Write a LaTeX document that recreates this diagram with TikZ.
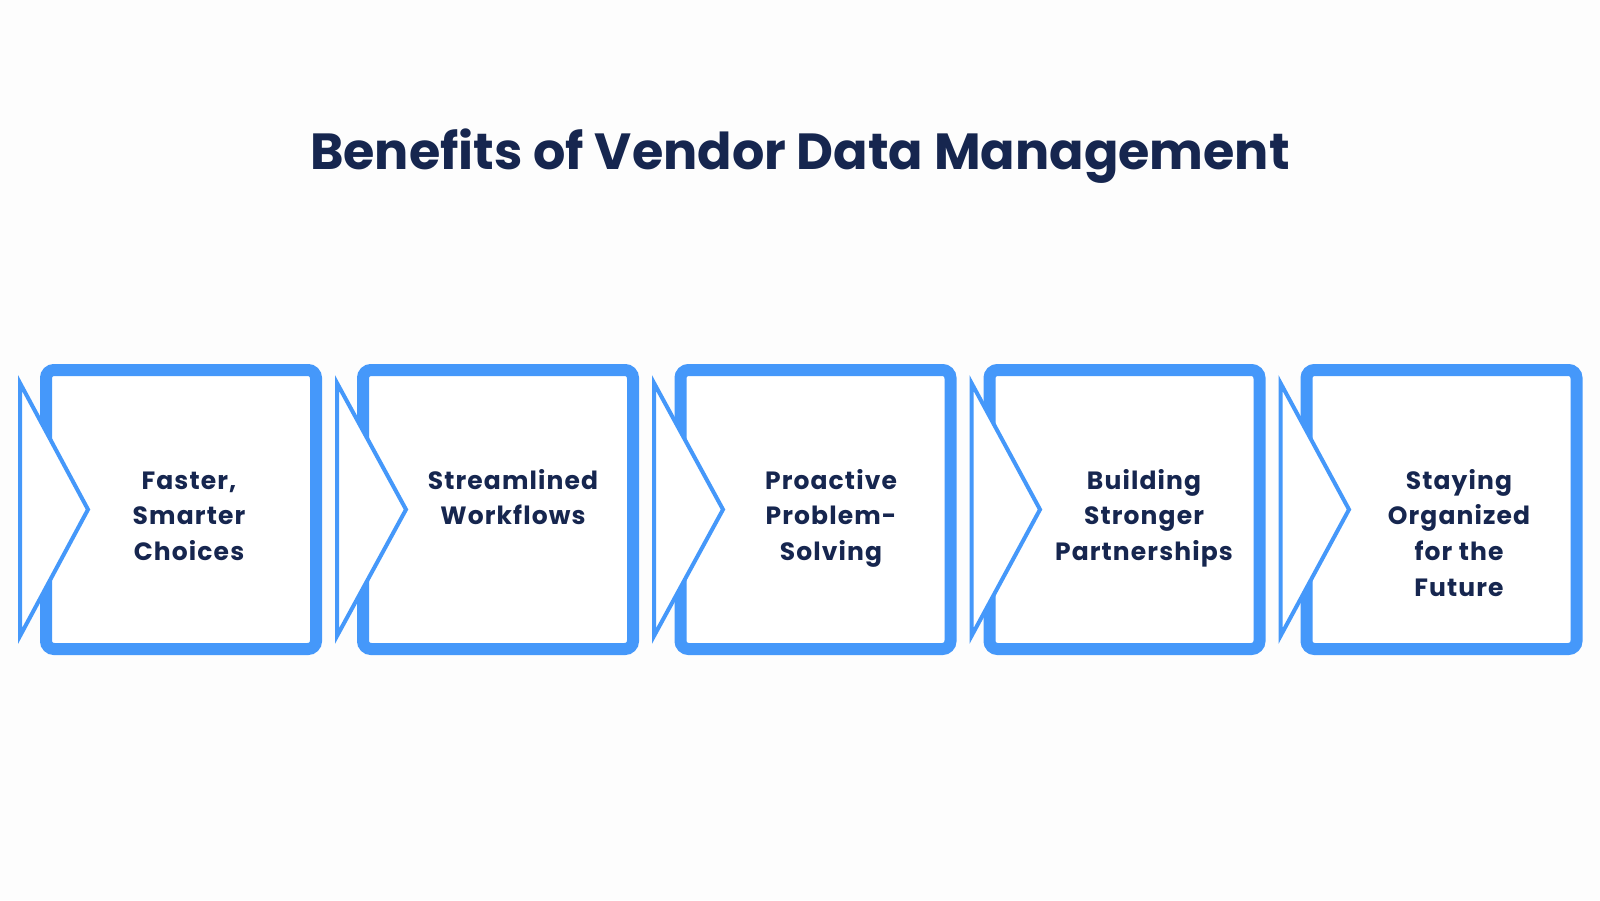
\documentclass[tikz,border=0pt]{standalone}
\usepackage{fontspec}
\setmainfont{Poppins}
\definecolor{boxblue}{HTML}{4598FA}
\definecolor{navy}{HTML}{16264F}
\definecolor{bgc}{HTML}{FDFDFD}
\tikzset{
  benefitbox/.style={draw=boxblue, line width=12pt, rounded corners=8pt, fill=white,
    minimum width=270pt, minimum height=279pt, inner sep=0pt},
  chev/.style={draw=boxblue, line width=4pt, fill=white, line join=miter},
  lbl/.style={anchor=base, inner sep=0pt, text=navy, font=\bfseries\fontsize{25pt}{35.7pt}\selectfont\addfontfeature{LetterSpace=4.5}},
  ttl/.style={anchor=base, inner sep=0pt, text=navy, font=\bfseries\fontsize{50.8pt}{60pt}\selectfont}
}
\newcommand{\lines}[1]{\parbox[t]{260pt}{\centering #1}}
\begin{document}
\begin{tikzpicture}[x=1pt,y=-1pt]
\fill[bgc] (0,0) rectangle (1600,900);
\useasboundingbox (0,0) rectangle (1600,900);
\node[ttl] (title) at (800,169) {Benefits of Vendor Data Management};
% boxes
\node[benefitbox] (b1) at (181,509.5) {};
\node[benefitbox] (b2) at (498,509.5) {};
\node[benefitbox] (b3) at (815.5,509.5) {};
\node[benefitbox] (b4) at (1124.5,509.5) {};
\node[benefitbox] (b5) at (1441.5,509.5) {};
% chevrons
\draw[chev] (20,383) -- (88,509.5) -- (20,636) -- cycle;
\draw[chev] (337,383) -- (406,509.5) -- (337,636) -- cycle;
\draw[chev] (654,383) -- (723,509.5) -- (654,636) -- cycle;
\draw[chev] (971.5,383) -- (1040,509.5) -- (971.5,636) -- cycle;
\draw[chev] (1280.5,383) -- (1349,509.5) -- (1280.5,636) -- cycle;
% labels
\node[lbl] (t1) at (189,489) {\lines{Faster,\\Smarter\\Choices}};
\node[lbl] (t2) at (513,489) {\lines{Streamlined\\Workflows}};
\node[lbl] (t3) at (831,489) {\lines{Proactive\\Problem-\\Solving}};
\node[lbl] (t4) at (1144,489) {\lines{Building\\Stronger\\Partnerships}};
\node[lbl] (t5) at (1459,489) {\lines{Staying\\Organized\\for the\\Future}};
\end{tikzpicture}
\end{document}
